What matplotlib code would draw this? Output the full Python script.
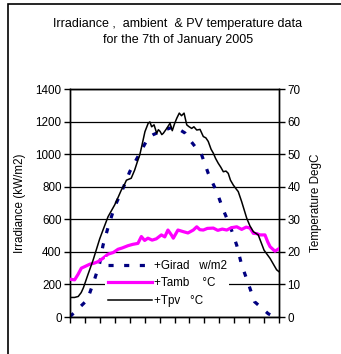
import matplotlib
matplotlib.use("Agg")
import matplotlib.pyplot as plt
from matplotlib.patches import Rectangle

plt.rcParams['font.family'] = ['Liberation Sans', 'DejaVu Sans']

# time axis (hour index across the day, 14 intervals)
girad_t = [0.0, 0.11, 1.16, 1.64, 1.99, 2.21, 2.58, 2.99, 3.55, 4.0, 4.67, 5.24, 5.58,
           6.03, 6.70, 7.03, 7.70, 7.92, 8.82, 9.26, 9.83, 10.27, 10.72, 11.17, 11.50,
           11.94, 12.36, 13.28, 13.6]
girad_w = [0, 12, 105, 230, 330, 440, 560, 677, 790, 892, 1005, 1100, 1120,
           1138, 1160, 1168, 1130, 1100, 995, 882, 769, 657, 560, 440, 319,
           207, 94, 20, 5]

tpv_t = [0.0, 0.3, 0.55, 0.75, 0.9, 1.2, 1.55, 1.99, 2.21, 2.55, 2.99, 3.2, 3.44, 3.6,
         3.78, 4.1, 4.33, 4.5, 4.67, 4.80, 5.02, 5.24, 5.35, 5.47, 5.63, 5.81, 5.92,
         6.03, 6.15, 6.25, 6.48, 6.70, 6.85, 7.0, 7.15, 7.32, 7.47, 7.64, 7.82, 7.95,
         8.15, 8.3, 8.49, 8.71, 8.93, 9.1, 9.26, 9.45, 9.60, 9.75, 9.93, 10.1, 10.27,
         10.45, 10.60, 10.75, 10.94, 11.1, 11.27, 11.50, 11.84, 12.05, 12.28, 12.61,
         13.0, 13.40, 13.84, 14.0]
tpv_c = [6.0, 6.0, 6.3, 7.5, 9.0, 13.0, 17.5, 24.0, 26.7, 30.8, 34.4, 36.5, 39.0, 40.2,
         42.0, 42.6, 45.1, 47.5, 49.7, 52.3, 56.9, 59.5, 59.9, 58.4, 59.0, 56.4, 57.5,
         57.0, 56.0, 56.4, 57.9, 59.5, 57.2, 59.3, 61.0, 62.6, 61.8, 62.6, 59.0, 58.5,
         57.9, 58.4, 57.4, 57.6, 55.4, 55.0, 53.9, 51.5, 50.3, 48.7, 47.2, 46.0, 44.6,
         44.8, 44.1, 42.0, 40.5, 39.5, 38.5, 35.4, 30.3, 28.0, 26.2, 25.2, 20.5, 18.0,
         14.5, 13.9]

tamb_t = [0.0, 0.31, 0.54, 0.76, 1.0, 1.32, 1.6, 1.88, 2.2, 2.55, 2.9, 3.22, 3.5, 3.89,
          4.2, 4.55, 4.78, 5.0, 5.22, 5.5, 5.78, 6.12, 6.35, 6.56, 6.79, 6.92, 7.23,
          7.59, 7.9, 8.26, 8.49, 8.7, 8.93, 9.2, 9.60, 9.9, 10.2, 10.50, 10.8, 11.17,
          11.5, 11.8, 12.06, 12.28, 12.5, 12.73, 13.06, 13.25, 13.40, 13.73, 14.0]
tamb_c = [11.6, 11.4, 13.1, 15.0, 15.5, 16.2, 16.5, 17.0, 18.0, 19.3, 19.8, 20.8, 21.2,
          21.9, 22.3, 22.6, 24.7, 23.5, 24.2, 23.6, 24.0, 25.2, 24.6, 26.7, 25.2, 24.2,
          26.7, 26.2, 25.8, 26.7, 27.7, 26.8, 26.7, 27.2, 27.3, 26.6, 27.0, 26.7, 27.4,
          27.7, 26.9, 27.6, 27.3, 25.7, 25.6, 25.2, 25.2, 23.0, 21.6, 20.2, 21.0]

title_lines = ["Irradiance ,  ambient  & PV temperature data", "for the 7th of January 2005"]
left_label = "Irradiance (kW/m2)"
right_label = "Temperature DegC"
legend_labels = ["+Girad   w/m2", "+Tamb    \u00b0C", "+Tpv   \u00b0C"]
left_ticks = list(range(0, 1401, 200))
right_ticks = list(range(0, 71, 10))
x_ticks = list(range(0, 15))

fs = 8.4
fig = plt.figure(figsize=(3.41, 3.54), dpi=100)
fig.patch.set_facecolor('white')

# outer chart frame
fig.patches.append(Rectangle((8 / 341, -0.05), 1.2, 1.05 - 4 / 354,
                             transform=fig.transFigure, fill=False,
                             edgecolor='black', linewidth=1.2))

ax = fig.add_axes([70 / 341, 1 - 317 / 354, 209 / 341, 228 / 354])
ax2 = ax.twinx()

l1, = ax.plot(girad_t, girad_w, color='#000080', linewidth=2.3,
              dashes=(1.6, 3.3), dash_capstyle='butt', zorder=3)
l2, = ax2.plot(tamb_t, tamb_c, color='#FF00FF', linewidth=2.3, zorder=3)
l3, = ax2.plot(tpv_t, tpv_c, color='black', linewidth=1.1, zorder=4)

ax.set_xlim(0, 14)
ax.set_ylim(0, 1400)
ax2.set_ylim(0, 70)
ax.set_xticks(x_ticks)
ax.set_xticklabels([])
ax.set_yticks(left_ticks)
ax2.set_yticks(right_ticks)
ax.tick_params(axis='y', direction='out', length=4, width=1, labelsize=fs, pad=2)
ax2.tick_params(axis='y', direction='out', length=4, width=1, labelsize=fs, pad=2)
ax.tick_params(axis='x', direction='out', length=4, width=1)
ax.yaxis.grid(True, color='black', linewidth=0.9)
ax.set_axisbelow(True)
for a in (ax, ax2):
    for s in a.spines.values():
        s.set_linewidth(1.0)
        s.set_color('black')

fig.text(20 / 341, 1 - 203 / 354, left_label, rotation=90, ha='center', va='center', fontsize=fs)
fig.text(316 / 341, 1 - 203 / 354, right_label, rotation=90, ha='center', va='center', fontsize=fs)

tfs = 9.0
fig.text(178 / 341, 1 - 24 / 354, title_lines[0], ha='center', va='center', fontsize=tfs)
fig.text(178 / 341, 1 - 39.5 / 354, title_lines[1], ha='center', va='center', fontsize=tfs)

leg = ax2.legend([l1, l2, l3], legend_labels, loc='upper left',
                 bbox_to_anchor=(0.168, 0.262), borderaxespad=0, borderpad=0.25,
                 handlelength=3.8, handletextpad=0.1, labelspacing=0.45,
                 fontsize=fs, frameon=True, fancybox=False)
leg.get_frame().set_facecolor('white')
leg.get_frame().set_edgecolor('none')
leg.get_frame().set_alpha(1)

fig.savefig('out.png', dpi=100)
